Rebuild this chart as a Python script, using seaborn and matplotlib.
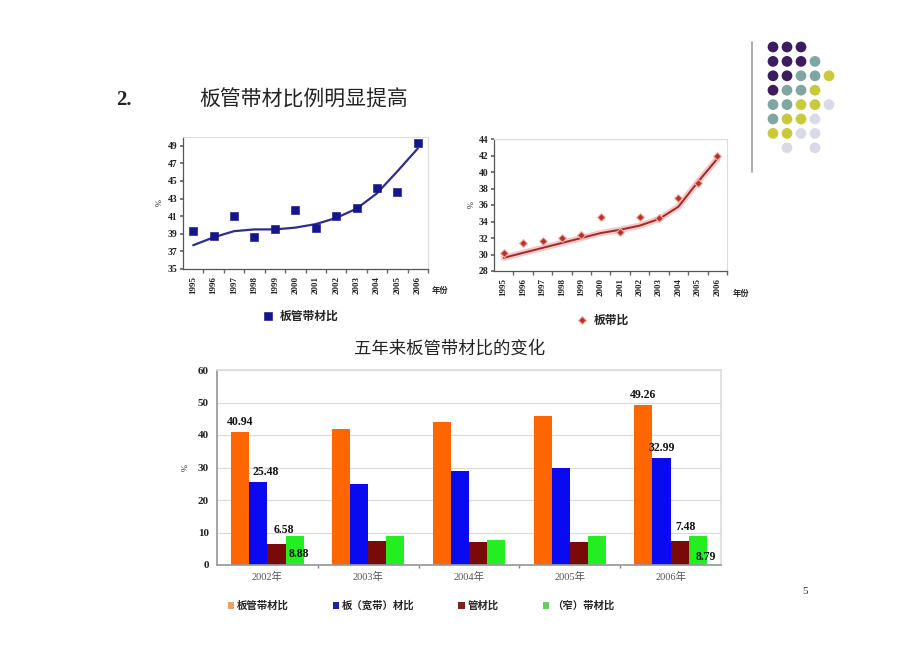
import numpy as np
import pandas as pd
import matplotlib
matplotlib.use("Agg")
import matplotlib.pyplot as plt
from matplotlib.lines import Line2D
from matplotlib.patches import Patch
import seaborn as sns

# ---------------- data ----------------
years = [1995, 1996, 1997, 1998, 1999, 2000, 2001, 2002, 2003, 2004, 2005, 2006]
plate_tube_strip = [39.3, 38.7, 41.0, 38.6, 39.5, 41.7, 39.7, 41.0, 41.9, 44.2, 43.7, 49.3]
plate_tube_strip_trend = [37.7, 38.6, 39.3, 39.5, 39.5, 39.7, 40.1, 40.8, 41.85, 43.6, 46.1, 48.7]
plate_strip = [30.2, 31.4, 31.6, 32.0, 32.4, 34.6, 32.7, 34.5, 34.4, 36.9, 38.7, 41.9]
plate_strip_trend = [29.6, 30.2, 30.8, 31.4, 32.0, 32.6, 33.0, 33.5, 34.3, 35.8, 38.8, 41.6]

bar_years = ["2002年", "2003年", "2004年", "2005年", "2006年"]
bar_series = ["板管带材比", "板（宽带）材比", "管材比", "（窄）带材比"]
ratio_total = [40.94, 41.9, 44.1, 45.9, 49.26]
ratio_plate_wide = [25.48, 24.9, 28.9, 29.95, 32.99]
ratio_tube = [6.58, 7.4, 7.1, 7.1, 7.48]
ratio_narrow = [8.88, 9.0, 7.7, 9.0, 8.79]
labelled_years = ["2002年", "2006年"]

# ---------------- style ----------------
sns.set_theme(style="white")
CJK = ["Noto Sans CJK SC", "DejaVu Sans"]
SERIF = ["Liberation Serif", "DejaVu Serif"]
plt.rcParams["font.family"] = CJK

fig = plt.figure(figsize=(9.2, 6.5), dpi=100)
fig.patch.set_facecolor("white")

def px(x, y):
    return x / 920.0, 1 - y / 650.0

def style_small_axes(ax, ylim, yticks):
    ax.set_facecolor("white")
    ax.set_xlim(-0.5, len(years) - 0.5)
    ax.set_ylim(*ylim)
    ax.set_yticks(yticks)
    ax.set_yticklabels([str(t) for t in yticks], family=SERIF, fontweight="bold",
                       fontsize=7, color="#222222")
    ax.set_xticks(range(len(years)))
    ax.set_xticklabels([str(y) for y in years], rotation=90, family=SERIF,
                       fontweight="bold", fontsize=6.5, color="#222222")
    ax.set_xticks(np.arange(len(years)) + 0.5, minor=True)
    ax.tick_params(axis="x", which="major", length=0, pad=5)
    ax.tick_params(axis="x", which="minor", length=3, color="#666666", direction="out", bottom=True)
    ax.tick_params(axis="y", length=2, color="#666666", direction="out", left=True, pad=2)
    for s in ["left", "bottom"]:
        ax.spines[s].set_color("#555555")
        ax.spines[s].set_linewidth(0.9)
    for s in ["top", "right"]:
        ax.spines[s].set_color("#dddddd")
        ax.spines[s].set_linewidth(0.8)
    ax.set_xlabel("")
    ax.set_ylabel("")
    ax.grid(False)

# ---------------- chart 1 ----------------
x0, y0 = px(183, 269)
ax1 = fig.add_axes([x0, y0, 245 / 920, 132 / 650])
df1 = pd.DataFrame({"pos": np.arange(len(years)), "val": plate_tube_strip,
                    "trend": plate_tube_strip_trend})
sns.lineplot(data=df1, x="pos", y="trend", ax=ax1, color="#2e2e8a", lw=1.6)
sns.scatterplot(data=df1, x="pos", y="val", marker="s", s=30, color="#16168c",
                edgecolor="#16168c", ax=ax1, label="板管带材比", zorder=5)
style_small_axes(ax1, (35, 50), list(range(35, 50, 2)))
h, l = ax1.get_legend_handles_labels()
ax1.legend(h[-1:], l[-1:], loc="center", bbox_to_anchor=px(297, 316), bbox_transform=fig.transFigure,
           frameon=False, prop=dict(family=CJK, weight="bold", size=8.5),
           handletextpad=0.0, markerscale=1.0)
fig.text(*px(160, 203), "%", rotation=90, fontsize=6, family=SERIF, ha="center", va="center")
fig.text(*px(432, 290), "年份", fontsize=6, ha="left", va="center", fontweight="bold")

# ---------------- chart 2 ----------------
x0, y0 = px(494, 271)
ax2 = fig.add_axes([x0, y0, 233 / 920, 132 / 650])
df2 = pd.DataFrame({"pos": np.arange(len(years)), "val": plate_strip, "trend": plate_strip_trend})
sns.lineplot(data=df2, x="pos", y="trend", ax=ax2, color="#f5b8b8", lw=4.5, alpha=0.8)
sns.lineplot(data=df2, x="pos", y="trend", ax=ax2, color="#9e2a2a", lw=1.4)
sns.scatterplot(data=df2, x="pos", y="val", marker="D", s=16, color="#b8322a",
                edgecolor="#f2b0a8", linewidth=0.8, ax=ax2, label="板带比", zorder=5)
style_small_axes(ax2, (28, 44), list(range(28, 45, 2)))
h, l = ax2.get_legend_handles_labels()
ax2.legend(h[-1:], l[-1:], loc="center", bbox_to_anchor=px(600, 320), bbox_transform=fig.transFigure,
           frameon=False, prop=dict(family=CJK, weight="bold", size=8.5),
           handletextpad=0.0, markerscale=1.0)
fig.text(*px(472, 205), "%", rotation=90, fontsize=6, family=SERIF, ha="center", va="center")
fig.text(*px(733, 293), "年份", fontsize=6, ha="left", va="center", fontweight="bold")

# ---------------- bottom bar chart ----------------
x0, y0 = px(217, 565)
ax3 = fig.add_axes([x0, y0, 504 / 920, 195 / 650])
series_vals = [ratio_total, ratio_plate_wide, ratio_tube, ratio_narrow]
df3 = pd.DataFrame({
    "year": np.tile(bar_years, len(bar_series)),
    "series": np.repeat(bar_series, len(bar_years)),
    "value": np.concatenate(series_vals),
})
bar_colors = ["#ff6600", "#0a0af0", "#7a0a0a", "#22ee22"]
sns.barplot(data=df3, x="year", y="value", hue="series", hue_order=bar_series,
            order=bar_years, palette=bar_colors, width=0.72, gap=0, ax=ax3,
            legend=False, saturation=1, edgecolor="none")
ax3.set_xlim(-0.5, len(bar_years) - 0.5)
ax3.set_ylim(0, 60)
ax3.set_yticks(range(0, 61, 10))
ax3.set_yticklabels([str(t) for t in range(0, 61, 10)], family=SERIF, fontweight="bold",
                    fontsize=8, color="#222222")
ax3.set_xticks(range(len(bar_years)))
ax3.set_xticklabels(bar_years, family=["Liberation Serif", "Noto Sans CJK SC"], fontsize=7.5,
                    color="#555555")
ax3.set_xticks(np.arange(len(bar_years) - 1) + 0.5, minor=True)
ax3.tick_params(axis="x", which="major", length=0, pad=5)
ax3.tick_params(axis="x", which="minor", length=2, color="#888888", bottom=True)
ax3.tick_params(axis="y", length=0, pad=6)
ax3.yaxis.grid(True, color="#d9d9d9", lw=0.8)
ax3.set_axisbelow(True)
for s in ["left", "bottom"]:
    ax3.spines[s].set_color("#999999")
for s in ["top", "right"]:
    ax3.spines[s].set_color("#dddddd")
ax3.set_xlabel("")
ax3.set_ylabel("")
fig.text(*px(186, 468), "%", rotation=90, fontsize=6, family=SERIF, ha="center", va="center")

# value labels (offsets in points: style only)
label_offsets = {
    ("2002年", 0): (0, 7, "bar"), ("2002年", 1): (5, 7, "bar"),
    ("2002年", 2): (5, 10, "bar"), ("2002年", 3): (3, 8, "base"),
    ("2006年", 0): (0, 7, "bar"), ("2006年", 1): (0, 7, "bar"),
    ("2006年", 2): (4, 10, "bar"), ("2006年", 3): (6, 6, "base"),
}
for si, cont in enumerate(ax3.containers):
    for yi, bar in enumerate(cont):
        yr = bar_years[yi]
        if yr not in labelled_years:
            continue
        val = series_vals[si][yi]
        dx, dy, anchor = label_offsets[(yr, si)]
        cx = bar.get_x() + bar.get_width() / 2
        cy = bar.get_height() if anchor == "bar" else 0
        ax3.annotate(f"{val:.2f}", xy=(cx, cy), xytext=(dx, dy), textcoords="offset points",
                     ha="center", va="center", family=SERIF, fontweight="bold",
                     fontsize=8.5, color="#111111", zorder=6)

handles = [Patch(facecolor=c, edgecolor="none") for c in ["#f0a060", "#2020a0", "#802020", "#60d060"]]
fig.legend(handles, bar_series, loc="center", bbox_to_anchor=px(421, 606), ncol=4,
           frameon=False, prop=dict(family=CJK, weight="bold", size=7.5),
           handlelength=0.6, handleheight=0.6, handletextpad=0.3, columnspacing=4.2)

# ---------------- titles & page decoration ----------------
fig.text(*px(116, 100), "2.", family=SERIF, fontweight="bold", fontsize=15,
         ha="left", va="center", color="#222222")
fig.text(*px(199, 100), "板管带材比例明显提高", fontsize=15, ha="left", va="center",
         color="#222222")
fig.text(*px(450, 349), "五年来板管带材比的变化", fontsize=12.5, ha="center", va="center",
         color="#222222")
fig.text(*px(805, 592), "5", family=SERIF, fontsize=8, ha="center", va="center")

fig.add_artist(Line2D([752 / 920, 752 / 920], [1 - 42 / 650, 1 - 172 / 650],
                      transform=fig.transFigure, color="#a0a0a0", lw=1.2))
deco = fig.add_axes([0, 0, 1, 1], zorder=-1)
deco.set_xlim(0, 920)
deco.set_ylim(650, 0)
deco.axis("off")
pattern = ["PPP", "PPPT", "PPTTY", "PTTY", "TTYYL", "TYYL", "YYLL", " L L"]
cmap = {"P": "#3b1c5e", "T": "#7fa6a2", "Y": "#c9c93c", "L": "#d9d9e8"}
for r, row in enumerate(pattern):
    for c, ch in enumerate(row):
        if ch in cmap:
            deco.scatter(773 + 14 * c, 47 + 14.4 * r, s=60, color=cmap[ch], edgecolor="none")

fig.savefig("out.png", dpi=100, facecolor="white")
